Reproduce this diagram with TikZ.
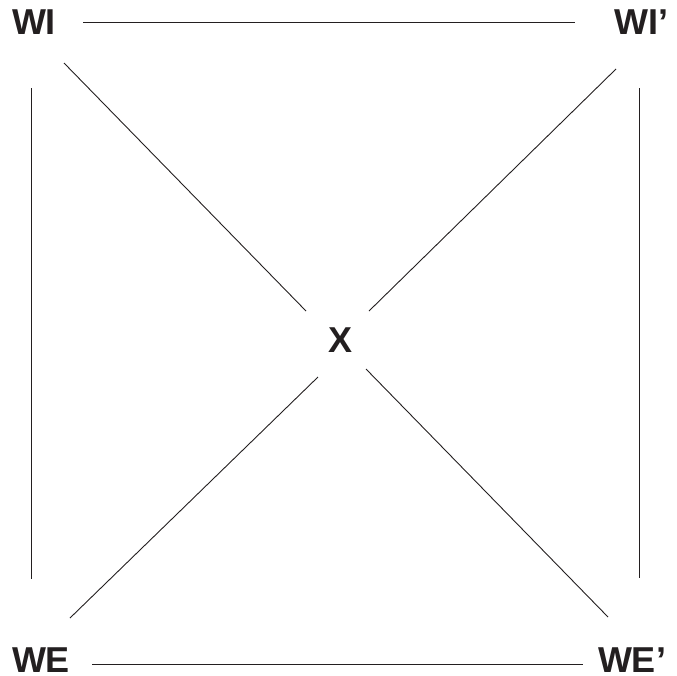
\documentclass[tikz,border=0pt]{standalone}
\usepackage{fontspec}
\setmainfont{Liberation Sans}
\definecolor{ink}{HTML}{231F20}
\begin{document}
\begin{tikzpicture}[x=1pt,y=-1pt,
  lbl/.style={inner sep=0pt,text=ink,font=\fontsize{36}{40}\selectfont\bfseries},
  link/.style={draw=ink,line width=0.9pt}]
\useasboundingbox (0,0) rectangle (677,675);
\node[lbl] (WI)  at (34,22)  {WI};
\node[lbl] (WIp) at (641,22) {WI’};
\node[lbl] (WE)  at (41,660) {WE};
\node[lbl] (WEp) at (632,660) {WE’};
\node[lbl] (X)   at (341,340) {X};
\path[link] ([shift={(49,0)}]WI.center) -- ([shift={(-66,0)}]WIp.center);
\path[link] ([shift={(51,4)}]WE.center) -- ([shift={(-49,4)}]WEp.center);
\path[link] ([shift={(-3,66)}]WI.center) -- ([shift={(-10,-81)}]WE.center);
\path[link] ([shift={(-2,66)}]WIp.center) -- ([shift={(7,-82)}]WEp.center);
\path[link] ([shift={(30,41)}]WI.center) -- ([shift={(-35,-29)}]X.center);
\path[link] ([shift={(-25,47)}]WIp.center) -- ([shift={(28,-29)}]X.center);
\path[link] ([shift={(-23,37)}]X.center) -- ([shift={(29,-42)}]WE.center);
\path[link] ([shift={(25,29)}]X.center) -- ([shift={(-24,-43)}]WEp.center);
\end{tikzpicture}
\end{document}
